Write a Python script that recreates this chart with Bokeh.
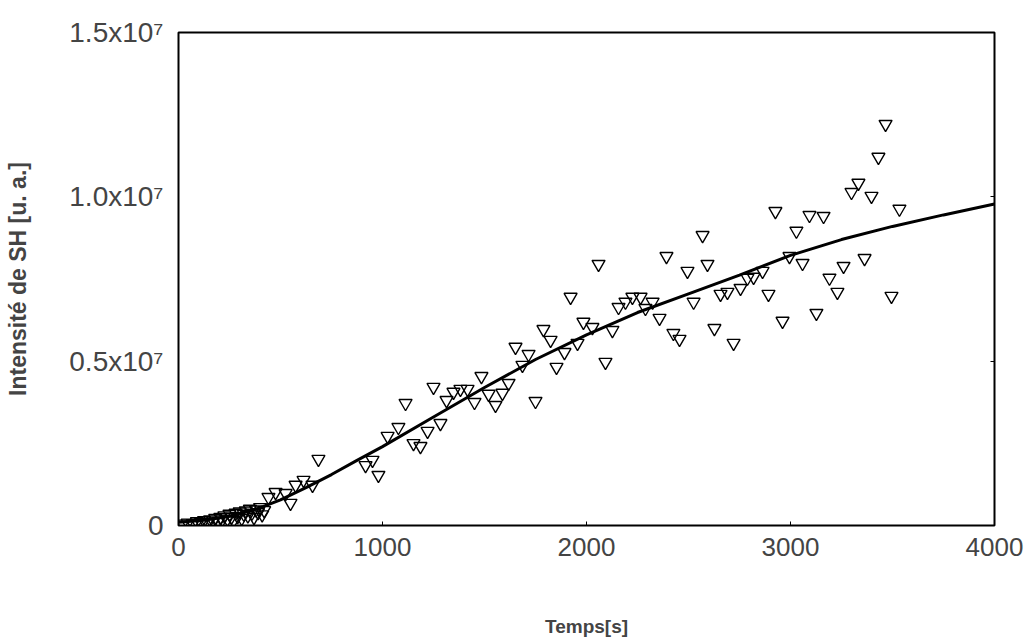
from bokeh.plotting import figure
from bokeh.models import FixedTicker, LinearAxis, Range1d
from bokeh.embed import file_html
from bokeh.resources import INLINE

# observed SH intensity (time in s, intensity in a.u.)
t_obs = [20, 45, 70, 90, 110, 125, 140, 155, 170, 180, 195, 205, 215, 225, 240, 250,
         260, 270, 280, 290, 300, 310, 320, 330, 340, 350, 360, 370, 380, 390, 400, 410, 420,
         441, 476, 525, 549, 574, 613, 657, 686, 917, 951, 980, 1025, 1078, 1113, 1152, 1186,
         1221, 1250, 1284, 1314, 1348, 1382, 1417, 1451, 1485, 1520, 1554, 1588, 1618, 1652,
         1686, 1716, 1750, 1789, 1824, 1853, 1892, 1922, 1956, 1985, 2029, 2059, 2093, 2127,
         2157, 2191, 2225, 2265, 2289, 2324, 2358, 2392, 2426, 2456, 2495, 2525, 2569, 2593,
         2627, 2657, 2691, 2721, 2755, 2789, 2819, 2863, 2892, 2926, 2961, 2995, 3029, 3059,
         3093, 3127, 3162, 3191, 3230, 3260, 3299, 3333, 3363, 3397, 3431, 3466, 3495, 3534]
y_obs = [0.05e6, 0.08e6, 0.06e6, 0.12e6, 0.10e6, 0.15e6, 0.09e6, 0.18e6, 0.14e6, 0.22e6,
         0.12e6, 0.25e6, 0.18e6, 0.30e6, 0.20e6, 0.35e6, 0.26e6, 0.15e6, 0.38e6, 0.28e6,
         0.42e6, 0.22e6, 0.35e6, 0.45e6, 0.30e6, 0.50e6, 0.38e6, 0.25e6, 0.48e6, 0.40e6,
         0.55e6, 0.33e6, 0.46e6,
         0.86e6, 1.01e6, 0.98e6, 0.68e6, 1.23e6, 1.38e6, 1.23e6, 2.02e6, 1.83e6, 1.99e6,
         1.53e6, 2.72e6, 2.99e6, 3.72e6, 2.50e6, 2.41e6, 2.87e6, 4.21e6, 3.11e6, 3.81e6,
         4.06e6, 4.15e6, 4.15e6, 3.75e6, 4.54e6, 4.00e6, 3.66e6, 4.03e6, 4.33e6, 5.43e6,
         4.88e6, 5.21e6, 3.78e6, 5.97e6, 5.64e6, 4.82e6, 5.27e6, 6.95e6, 5.55e6, 6.19e6,
         6.03e6, 7.95e6, 4.97e6, 5.94e6, 6.64e6, 6.80e6, 6.95e6, 6.95e6, 6.61e6, 6.80e6,
         6.31e6, 8.19e6, 5.85e6, 5.67e6, 7.74e6, 6.80e6, 8.83e6, 7.95e6, 6.00e6, 7.04e6,
         7.10e6, 5.55e6, 7.22e6, 7.53e6, 7.56e6, 7.74e6, 7.04e6, 9.56e6, 6.22e6, 8.19e6,
         8.96e6, 7.98e6, 9.44e6, 6.46e6, 9.41e6, 7.53e6, 7.10e6, 7.89e6, 10.14e6, 10.42e6,
         8.13e6, 10.02e6, 11.21e6, 12.21e6, 6.98e6, 9.63e6]

# fitted curve
t_fit = [0, 125, 250, 375, 500, 625, 750, 875, 1000, 1250, 1500, 1750, 2000, 2250, 2500,
         2750, 3000, 3250, 3500, 3750, 4000]
y_fit = [0.10e6, 0.16e6, 0.28e6, 0.48e6, 0.78e6, 1.15e6, 1.55e6, 1.98e6, 2.40e6, 3.30e6,
         4.20e6, 5.05e6, 5.80e6, 6.48e6, 7.05e6, 7.62e6, 8.22e6, 8.70e6, 9.10e6, 9.45e6,
         9.78e6]

x_ticks = [0, 1000, 2000, 3000, 4000]
x_tick_labels = ["0", "1000", "2000", "3000", "4000"]
y_ticks = [0, 5e6, 1e7, 1.5e7]
y_tick_labels = ["0", "0.5x10\u2077", "1.0x10\u2077", "1.5x10\u2077"]

FONT = "Liberation Sans"

p = figure(width=1027, height=640, x_range=Range1d(0, 4000), y_range=Range1d(0, 1.5e7),
           output_backend="svg", toolbar_location=None,
           min_border_left=178, min_border_right=33, min_border_top=32, min_border_bottom=115)
p.xgrid.visible = False
p.ygrid.visible = False
p.outline_line_color = "black"
p.outline_line_width = 2
p.background_fill_color = "white"
p.border_fill_color = "white"

xa = p.xaxis[0]
xa.ticker = FixedTicker(ticks=x_ticks)
xa.major_label_overrides = {t: s for t, s in zip(x_ticks, x_tick_labels)}
xa.axis_line_color = None
xa.major_tick_in = 4
xa.major_tick_out = 0
xa.minor_tick_line_color = None
xa.major_label_text_font = FONT
xa.major_label_text_font_size = "26px"
xa.major_label_standoff = 12
xa.axis_label = "Temps[s]"
xa.axis_label_text_font = FONT
xa.axis_label_text_font_style = "bold"
xa.axis_label_text_font_size = "19px"
xa.axis_label_standoff = 57

ya = p.yaxis[0]
ya.ticker = FixedTicker(ticks=y_ticks)
ya.major_label_overrides = {t: s for t, s in zip(y_ticks, y_tick_labels)}
ya.axis_line_color = None
ya.major_tick_line_color = None
ya.minor_tick_line_color = None
ya.major_label_text_font = FONT
ya.major_label_text_font_size = "28px"
ya.major_label_standoff = 9
ya.axis_label = "Intensité de SH [u. a.]"
ya.axis_label_text_font = FONT
ya.axis_label_text_font_style = "bold"
ya.axis_label_text_font_size = "23px"
ya.axis_label_standoff = 35

ra = LinearAxis(ticker=FixedTicker(ticks=[5e6, 1e7]), axis_line_color=None,
                major_tick_in=4, major_tick_out=0, minor_tick_line_color=None,
                major_label_text_color=None, major_label_overrides={5e6: "", 1e7: ""})
p.add_layout(ra, "right")

p.scatter(t_obs, y_obs, marker="inverted_triangle", size=13, fill_alpha=0,
          line_color="black", line_width=1.4)
p.line(t_fit, y_fit, line_color="black", line_width=3)

open("out.html", "w").write(file_html(p, INLINE))
